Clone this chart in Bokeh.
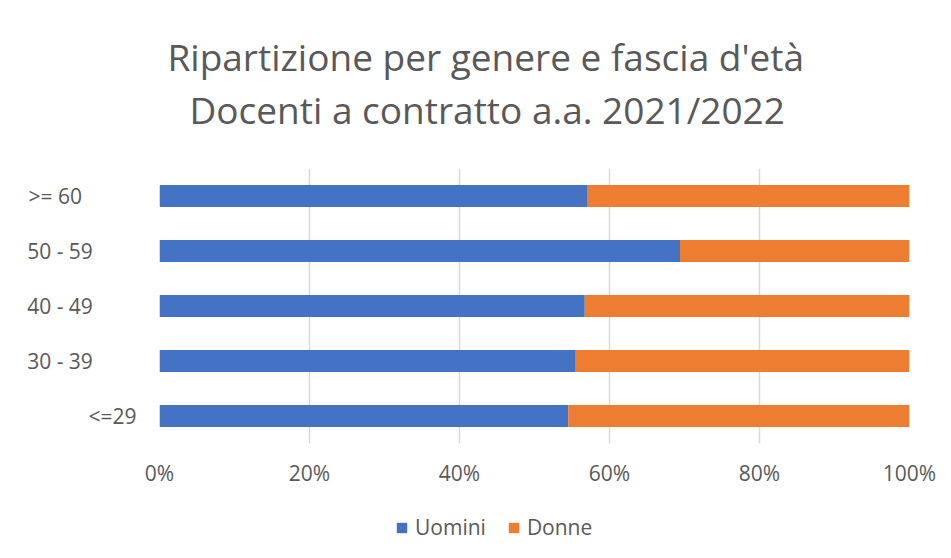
from bokeh.plotting import figure
from bokeh.layouts import column
from bokeh.models import (ColumnDataSource, Range1d, Title, Legend, LegendItem, FixedTicker)
from bokeh.embed import file_html
from bokeh.resources import INLINE

# ---- data ----
categories = ["<=29", "30 - 39", "40 - 49", "50 - 59", ">= 60"]
uomini = [54.5, 55.5, 56.7, 69.4, 57.1]
donne = [45.5, 44.5, 43.3, 30.6, 42.9]
series_names = ["Uomini", "Donne"]
x_ticks = [0, 20, 40, 60, 80, 100]
x_tick_labels = ["0%", "20%", "40%", "60%", "80%", "100%"]
title_lines = ["Ripartizione per genere e fascia d'età", "Docenti a contratto a.a. 2021/2022"]

# ---- style ----
FONT = "Open Sans"
GRAY = "#595959"
GRID = "#d9d9d9"
COLORS = ["#4472C4", "#ED7D31"]
label_pad = [0, 8, 8, 8, 10]   # trailing non-breaking spaces (Excel-like label placement)

ypos = [i + 0.5 for i in range(len(categories))]

p = figure(frame_width=750, frame_height=275,
           y_range=Range1d(0, len(categories)), x_range=Range1d(0, 100),
           output_backend="svg", toolbar_location=None,
           min_border_left=159, min_border_right=42,
           min_border_top=168, min_border_bottom=60)
p.outline_line_color = None

src = ColumnDataSource(dict(cat=categories, y=ypos, Uomini=uomini, Donne=donne))
rs = p.hbar_stack(series_names, y="y", height=0.4, color=COLORS, line_color=None, source=src)

# titles (spacer first: it sits next to the plot area)
spacer = Title(text=" ", standoff=31, text_font_size="1px")
p.add_layout(spacer, "above")
p.title.text = title_lines[0]
p.title.align = "left"
p.title.offset = 8
p.title.standoff = 0
p.title.text_font = FONT
p.title.text_font_size = "37px"
p.title.text_font_style = "normal"
p.title.text_color = GRAY
t2 = Title(text=title_lines[1], align="left", offset=30, standoff=0, text_font=FONT,
           text_font_size="37px", text_font_style="normal", text_color=GRAY)
p.add_layout(t2, "above")

# x axis
ax = p.xaxis[0]
ax.ticker = FixedTicker(ticks=x_ticks)
ax.major_label_overrides = {t: l for t, l in zip(x_ticks, x_tick_labels)}
ax.axis_line_color = None
ax.major_tick_line_color = None
ax.minor_tick_line_color = None
ax.major_tick_out = 0
ax.major_label_standoff = 15
ax.major_label_text_font = FONT
ax.major_label_text_font_size = "21px"
ax.major_label_text_color = GRAY
p.xgrid.ticker = FixedTicker(ticks=x_ticks)
p.xgrid.grid_line_color = GRID
p.xgrid.grid_line_width = 1.5
p.ygrid.visible = False

# y axis (category labels)
ay = p.yaxis[0]
ay.ticker = FixedTicker(ticks=ypos)
ay.major_label_overrides = {y: c + "\u00a0" * n for y, c, n in zip(ypos, categories, label_pad)}
ay.axis_line_color = None
ay.major_tick_line_color = None
ay.minor_tick_line_color = None
ay.major_tick_out = 0
ay.major_label_standoff = 23
ay.major_label_text_font = FONT
ay.major_label_text_font_size = "21px"
ay.major_label_text_color = GRAY

# legend strip below the chart (frame aligned with the chart's frame)
lg = figure(width=951, height=55, x_range=Range1d(0, 1), y_range=Range1d(0, 1),
            output_backend="svg", toolbar_location=None,
            min_border=0, min_border_left=0, min_border_right=0,
            min_border_top=0, min_border_bottom=0)
lg.axis.visible = False
lg.grid.visible = False
lg.outline_line_color = None
swatches = lg.hbar_stack(series_names, y="y", height=0.4, color=COLORS, line_color=None,
                         source=src)
for r in swatches:
    r.visible = False
legend = Legend(items=[LegendItem(label=n, renderers=[r]) for n, r in zip(series_names, swatches)],
                orientation="horizontal", location=(236, 17),
                label_text_font=FONT, label_text_font_size="21px", label_text_color=GRAY,
                glyph_width=13, glyph_height=13, spacing=21, label_standoff=7,
                inactive_fill_alpha=0,
                border_line_color=None, background_fill_alpha=0, padding=0, margin=0)
lg.add_layout(legend, "center")

layout = column(p, lg, spacing=0)
open("out.html", "w").write(file_html(layout, INLINE))
